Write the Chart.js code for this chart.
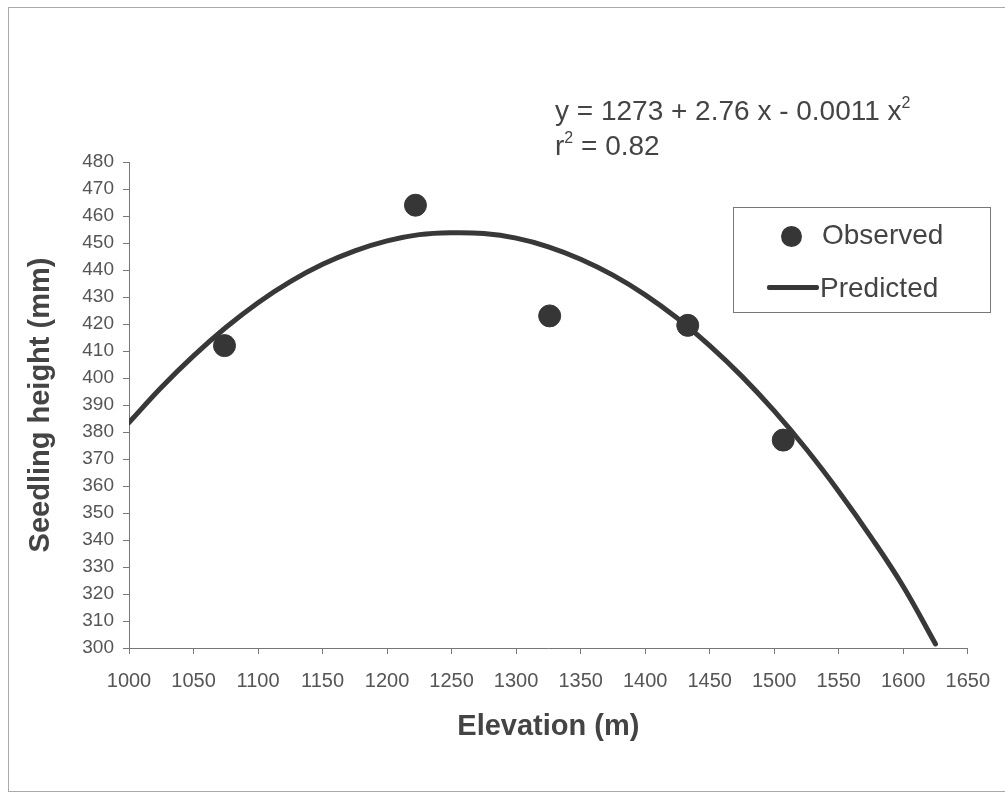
<!DOCTYPE html>
<html>
<head>
<meta charset="utf-8">
<script src="https://cdn.jsdelivr.net/npm/chart.js@4/dist/chart.umd.min.js"></script>
<style>
  html, body { margin: 0; padding: 0; background: #fff; }
  #wrap { position: relative; width: 1005px; height: 796px; overflow: hidden; }
  #frame { position: absolute; left: 8px; top: 7px; width: 1100px; height: 785px; border: 1px solid #aaa; box-sizing: border-box; }
  canvas { position: absolute; left: 0; top: 0; }
  .txt { position: absolute; font-family: 'Liberation Sans', Arial, sans-serif; color: #444; white-space: nowrap; }
  #eq1 { left: 555px; top: 95px; font-size: 28px; }
  #eq2 { left: 555px; top: 130px; font-size: 28px; }
  sup { font-size: 16px; vertical-align: 12px; line-height: 0; }
  #legend { position: absolute; left: 733px; top: 207px; width: 258px; height: 106px; border: 1px solid #777; box-sizing: border-box; }
  #dot { position: absolute; left: 47px; top: 18px; width: 21px; height: 21px; border-radius: 50%; background: #363636; }
  #dash { position: absolute; left: 33px; top: 77px; width: 52px; height: 5px; background: #363636; border-radius: 2px; }
  #lbl1 { left: 88px; top: 11px; font-size: 28px; }
  #lbl2 { left: 86px; top: 64px; font-size: 28px; }
</style>
</head>
<body>
<div id="wrap">
  <div id="frame"></div>
  <canvas id="chart" width="1005" height="796"></canvas>
  <div class="txt" id="eq1">y = 1273 + 2.76 x - 0.0011 x<sup>2</sup></div>
  <div class="txt" id="eq2">r<sup>2</sup> = 0.82</div>
  <div id="legend">
    <div id="dot"></div>
    <div class="txt" id="lbl1">Observed</div>
    <div id="dash"></div>
    <div class="txt" id="lbl2">Predicted</div>
  </div>
</div>
<script>
// observed seedling heights
const elevation = [1074, 1222, 1326, 1433, 1507];
const observedHeight = [412, 464, 423, 419.5, 377];

// fitted curve
const curveElevation = [1000, 1025, 1050, 1075, 1100, 1125, 1150, 1175, 1200, 1225, 1250, 1275, 1300,
  1325, 1350, 1375, 1400, 1425, 1450, 1475, 1500, 1525, 1550, 1575, 1600, 1625];
const predictedHeight = [383.5, 396.5, 408.2, 418.7, 427.9, 435.7, 442.1, 447.1, 450.8, 453.1, 453.8, 453.5,
  451.8, 448.6, 444.0, 438.1, 430.8, 422.1, 412.0, 400.6, 387.8, 373.6, 358.0, 341.1, 322.8, 301.5];

const xTicks = { min: 1000, max: 1650, step: 50 };
const yTicks = { min: 300, max: 480, step: 10 };

const axisColor = '#777';
const labelColor = '#555';

new Chart(document.getElementById('chart'), {
  type: 'scatter',
  data: {
    datasets: [
      {
        label: 'Observed',
        data: elevation.map((x, i) => ({ x, y: observedHeight[i] })),
        backgroundColor: '#363636',
        borderColor: '#363636',
        pointRadius: 11,
        showLine: false
      },
      {
        label: 'Predicted',
        data: curveElevation.map((x, i) => ({ x, y: predictedHeight[i] })),
        borderColor: '#383838',
        borderWidth: 5,
        pointRadius: 0,
        showLine: true,
        tension: 0.4,
        borderCapStyle: 'round'
      }
    ]
  },
  options: {
    responsive: false,
    animation: false,
    layout: {
      padding: { left: 20, right: 26, top: 162, bottom: 40 }
    },
    plugins: {
      legend: { display: false },
      tooltip: { enabled: false }
    },
    scales: {
      x: {
        type: 'linear',
        min: xTicks.min,
        max: xTicks.max,
        afterFit: (scale) => { scale.height = 108; },
        ticks: {
          stepSize: xTicks.step,
          padding: 15,
          color: labelColor,
          font: { family: "'Liberation Sans', Arial", size: 20 },
          callback: (v) => String(v)
        },
        grid: { drawOnChartArea: false, drawTicks: true, tickLength: 6, color: axisColor },
        border: { display: true, color: axisColor },
        title: {
          display: true,
          text: 'Elevation (m)',
          color: '#444',
          padding: { top: 4, bottom: 12 },
          font: { family: "'Liberation Sans', Arial", size: 29, weight: 'bold' }
        }
      },
      y: {
        type: 'linear',
        min: yTicks.min,
        max: yTicks.max,
        afterFit: (scale) => { scale.width = 109; },
        ticks: {
          stepSize: yTicks.step,
          padding: 9,
          color: labelColor,
          font: { family: "'Liberation Sans', Arial", size: 19 },
          callback: (v) => String(v)
        },
        grid: { drawOnChartArea: false, drawTicks: true, tickLength: 6, color: axisColor },
        border: { display: true, color: axisColor },
        title: {
          display: true,
          text: 'Seedling height (mm)',
          color: '#444',
          padding: 4,
          font: { family: "'Liberation Sans', Arial", size: 29, weight: 'bold' }
        }
      }
    }
  }
});
</script>
</body>
</html>
